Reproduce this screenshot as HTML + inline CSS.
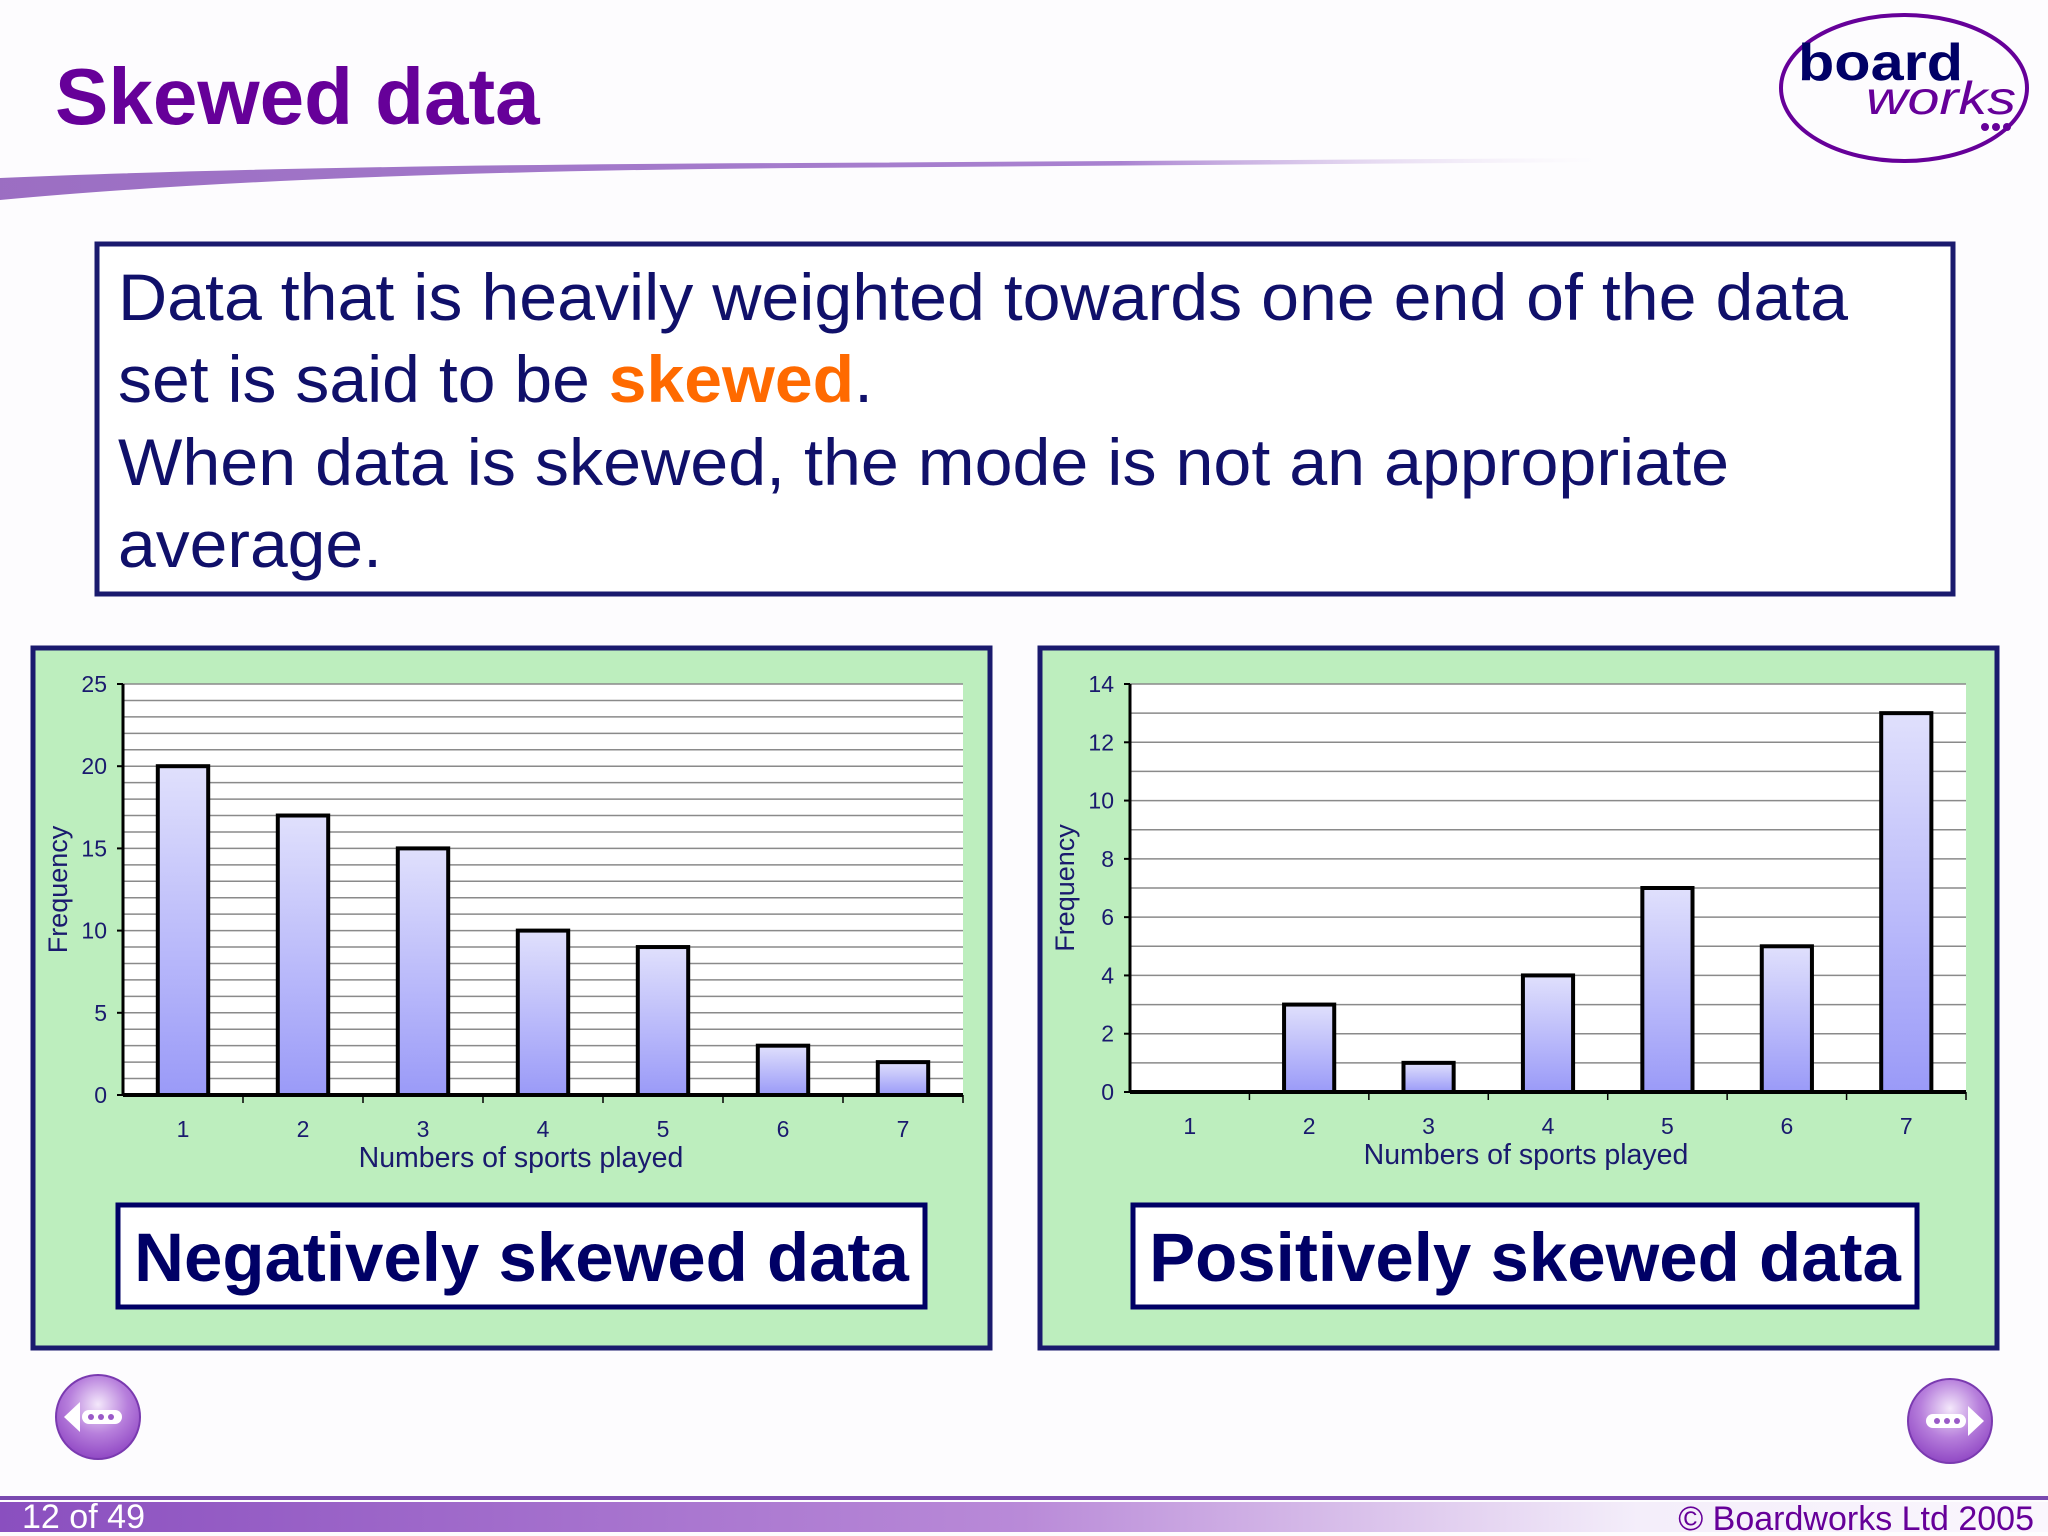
<!DOCTYPE html>
<html><head><meta charset="utf-8">
<style>
html,body{margin:0;padding:0;background:#fdfcfe;}
svg{display:block;font-family:"Liberation Sans",sans-serif;}
</style></head>
<body>
<svg id="page" width="2048" height="1536" viewBox="0 0 2048 1536" xmlns="http://www.w3.org/2000/svg">
<defs>
  <linearGradient id="barGrad" x1="0" y1="0" x2="0" y2="1">
    <stop offset="0" stop-color="#e0e0fc"/>
    <stop offset="1" stop-color="#9a9af8"/>
  </linearGradient>
  <linearGradient id="swoosh" x1="0" y1="0" x2="1" y2="0">
    <stop offset="0" stop-color="#8a55b8"/>
    <stop offset="0.7" stop-color="#9a6cc8"/>
    <stop offset="1" stop-color="#e8dcf2" stop-opacity="0"/>
  </linearGradient>
  <linearGradient id="footGrad" x1="0" y1="0" x2="1" y2="0">
    <stop offset="0" stop-color="#8a4fbf"/>
    <stop offset="0.5" stop-color="#b98ad8"/>
    <stop offset="0.8" stop-color="#f4eefa"/>
    <stop offset="1" stop-color="#faf6fd"/>
  </linearGradient>
  <radialGradient id="btnGrad" cx="0.5" cy="0.35" r="0.7">
    <stop offset="0" stop-color="#f4e8fb"/>
    <stop offset="0.5" stop-color="#b77fdc"/>
    <stop offset="1" stop-color="#8a3fc0"/>
  </radialGradient>
</defs>

<text x="55" y="124" font-size="80" font-weight="bold" fill="#660099">Skewed data</text>
<path d="M0 178 Q300 165 800 163 L1600 158 L1600 162 L800 168 Q300 172 0 200 Z" fill="url(#swoosh)" opacity="0.85"/>

<g>
  <ellipse cx="1904" cy="88" rx="123" ry="73" fill="none" stroke="#660099" stroke-width="4"/>
  <text x="1798" y="80" font-size="52" font-weight="bold" fill="#000066" textLength="165" lengthAdjust="spacingAndGlyphs">board</text>
  <text x="1866" y="114" font-size="46" font-style="italic" fill="#660099" textLength="150" lengthAdjust="spacingAndGlyphs">works</text>
  <circle cx="1985" cy="127" r="4" fill="#660099"/><circle cx="1996" cy="127" r="4" fill="#660099"/><circle cx="2007" cy="127" r="4" fill="#660099"/>
</g>

<g>
  <rect x="97" y="244" width="1856" height="350" fill="#fff" stroke="#1a1a6e" stroke-width="5"/>
  <g font-size="66" fill="#10106a">
    <text x="118" y="320" textLength="1730" lengthAdjust="spacingAndGlyphs">Data that is heavily weighted towards one end of the data</text>
    <text x="118" y="402" textLength="755" lengthAdjust="spacingAndGlyphs">set is said to be <tspan font-weight="bold" fill="#ff6a00">skewed</tspan>.</text>
    <text x="118" y="485" textLength="1611" lengthAdjust="spacingAndGlyphs">When data is skewed, the mode is not an appropriate</text>
    <text x="118" y="567" textLength="264" lengthAdjust="spacingAndGlyphs">average.</text>
  </g>
</g>

<g id="chartL"></g>
<g id="chartR"></g>

<g>
  <circle cx="98" cy="1417" r="42" fill="url(#btnGrad)" stroke="#7a3ab0" stroke-width="2"/>
  <path d="M64 1417 L80 1402 L80 1432 Z" fill="#fff"/>
  <rect x="82" y="1410" width="40" height="14" rx="7" fill="#fff"/>
  <circle cx="91" cy="1417" r="3" fill="#9a5ac8"/><circle cx="101" cy="1417" r="3" fill="#9a5ac8"/><circle cx="111" cy="1417" r="3" fill="#9a5ac8"/>
</g>
<g>
  <circle cx="1950" cy="1421" r="42" fill="url(#btnGrad)" stroke="#7a3ab0" stroke-width="2"/>
  <path d="M1984 1421 L1968 1406 L1968 1436 Z" fill="#fff"/>
  <rect x="1926" y="1414" width="40" height="14" rx="7" fill="#fff"/>
  <circle cx="1937" cy="1421" r="3" fill="#9a5ac8"/><circle cx="1947" cy="1421" r="3" fill="#9a5ac8"/><circle cx="1957" cy="1421" r="3" fill="#9a5ac8"/>
</g>

<g>
  <rect x="0" y="1496" width="2048" height="4" fill="#7a4ab0"/>
  <rect x="0" y="1502" width="2048" height="30" fill="url(#footGrad)"/>
  <text x="22" y="1528" font-size="34" fill="#fff" textLength="123" lengthAdjust="spacingAndGlyphs">12 of 49</text>
  <text x="2034" y="1530" font-size="34" fill="#660099" text-anchor="end">© Boardworks Ltd 2005</text>
</g>
</svg>
<script>
const categories = ["1","2","3","4","5","6","7"];
const negValues = [20, 17, 15, 10, 9, 3, 2];
const posValues = [0, 3, 1, 4, 7, 5, 13];
const negTicks = [0, 5, 10, 15, 20, 25];
const posTicks = [0, 2, 4, 6, 8, 10, 12, 14];
const NS = "http://www.w3.org/2000/svg";
function mk(tag, attrs, parent){const e=document.createElementNS(NS,tag);for(const k in attrs)e.setAttribute(k,attrs[k]);parent.appendChild(e);return e;}

function drawChart(g, panel, plot, values, ticks, gridStep, title, box){
  const bg = mk('rect',{x:panel.x,y:panel.y,width:panel.w,height:panel.h,fill:'#bdeebe',stroke:'#1a1a6e','stroke-width':5},g);
  
  
  const maxV = ticks[ticks.length-1];
  const yS = v => plot.y + plot.h - v/maxV*plot.h;
  const band = plot.w/categories.length;
  const xC = i => plot.x + band*(i+0.5);
  const pa = mk('rect',{x:plot.x,y:plot.y,width:plot.w,height:plot.h,fill:'#fff'},g);
  
  
  for(let v=gridStep; v<=maxV; v+=gridStep){
    const gl = mk('line',{x1:plot.x,x2:plot.x+plot.w,y1:yS(v),y2:yS(v),stroke:'#8a8a8a','stroke-width':1.5},g);
    
    
  }
  ticks.forEach(t=>{
    const tl = mk('text',{x:plot.x-16,y:yS(t)+8,'font-size':23,fill:'#1a1a6e','text-anchor':'end'},g);
    tl.textContent=t;
    
    
    mk('line',{x1:plot.x-6,x2:plot.x,y1:yS(t),y2:yS(t),stroke:'#000','stroke-width':2},g);
  });
  values.forEach((v,i)=>{
    const bw = band*0.42;
    const b = mk('rect',{x:xC(i)-bw/2,y:yS(v),width:bw,height:yS(0)-yS(v),fill:'url(#barGrad)',stroke:'#000','stroke-width':4},g);
    
    
  });
  mk('line',{x1:plot.x,x2:plot.x,y1:plot.y,y2:yS(0),stroke:'#000','stroke-width':3},g);
  mk('line',{x1:plot.x,x2:plot.x+plot.w,y1:yS(0),y2:yS(0),stroke:'#000','stroke-width':4},g);
  categories.forEach((c,i)=>{
    mk('line',{x1:plot.x+band*(i+1),x2:plot.x+band*(i+1),y1:yS(0),y2:yS(0)+8,stroke:'#000','stroke-width':1.5},g);
    const xl = mk('text',{x:xC(i),y:yS(0)+42,'font-size':23,fill:'#1a1a6e','text-anchor':'middle'},g);
    xl.textContent=c;
    
    
  });
  const xt = mk('text',{x:plot.x+plot.w/2-22,y:yS(0)+72,'font-size':28.5,fill:'#1a1a6e','text-anchor':'middle'},g);
  xt.textContent='Numbers of sports played';
  
  
  const yx = panel.x+34, yy = plot.y+plot.h/2;
  const yt = mk('text',{x:yx,y:yy,'font-size':27,fill:'#1a1a6e','text-anchor':'middle',transform:`rotate(-90 ${yx} ${yy})`},g);
  yt.textContent='Frequency';
  
  
  const lb = mk('rect',{x:box.x,y:box.y,width:box.w,height:box.h,fill:'#fff',stroke:'#000066','stroke-width':5},g);
  
  
  const lt = mk('text',{x:box.x+box.w/2,y:box.y+box.h/2+25,'font-size':69,'font-weight':'bold',fill:'#000066','text-anchor':'middle'},g);
  lt.textContent=title;
  
  
}
drawChart(document.getElementById('chartL'),{x:33,y:648,w:957,h:700},{x:123,y:684,w:840,h:411},negValues,negTicks,1,'Negatively skewed data',{x:118,y:1205,w:807,h:102});
drawChart(document.getElementById('chartR'),{x:1040,y:648,w:957,h:700},{x:1130,y:684,w:836,h:408},posValues,posTicks,1,'Positively skewed data',{x:1133,y:1205,w:784,h:102});
</script>
</body></html>
